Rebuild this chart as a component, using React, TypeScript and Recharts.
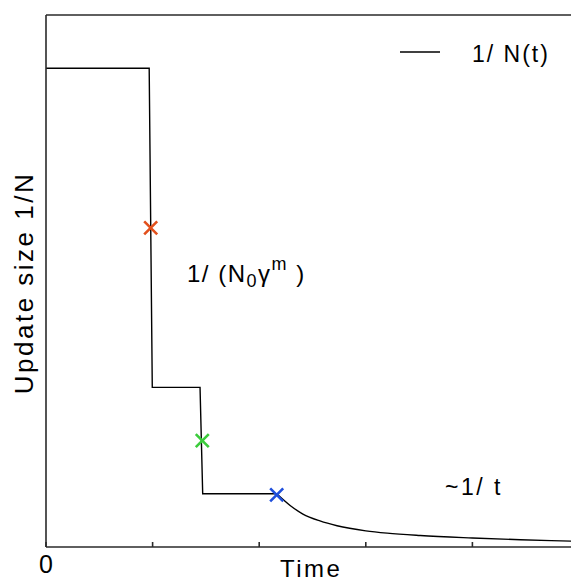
import React from 'react';
import { ComposedChart, Line, Scatter, XAxis, YAxis } from 'recharts';

// step part of 1/N(t): time, value
const stepTimes = [0, 0.968, 0.997, 1.445, 1.47, 2.164];
const stepValues = [4.5, 4.5, 1.5, 1.5, 0.5, 0.5];

// ~1/t tail
const tailTimes = [2.164, 2.29, 2.41, 2.57, 2.73, 3.0, 3.2, 3.51, 4.0, 4.45, 4.93, 5.0];
const tailValues = [0.5, 0.39, 0.31, 0.245, 0.2, 0.152, 0.13, 0.108, 0.085, 0.068, 0.055, 0.053];

// marker crosses
const markerTimes = [0.982, 1.466, 2.164];
const markerValues = [3.0, 1.0, 0.49];
const markerColors = ['#e2501c', '#3ccc3c', '#1f4fdc'];

const axisTicks = [0, 1, 2, 3, 4, 5];

const stepData = stepTimes.map((t, i) => ({ t, v: stepValues[i] }));
const tailData = tailTimes.map((t, i) => ({ t, v: tailValues[i] }));

const FONT = '"Liberation Sans", Arial, sans-serif';

const Cross = (props: any) => {
  const { cx, cy, fill } = props;
  const s = 6.5;
  return <path d={`M${cx - s},${cy - s}L${cx + s},${cy + s}M${cx - s},${cy + s}L${cx + s},${cy - s}`} stroke={fill} strokeWidth={2.6} fill="none" />;
};

const ZeroTick = (props: any) => {
  const { x, payload } = props;
  if (payload.value !== 0) return <g />;
  return <text x={x} y={573} textAnchor="middle" fontSize={25} fontFamily={FONT} fill="#000">0</text>;
};

const App = () => {
  const axisStyle = { stroke: '#2a2a2a', strokeWidth: 1.6 };
  return <div style={{ position: 'absolute', left: 0, top: 0, width: 571, height: 581, overflow: 'hidden', background: '#fff' }}>
      <ComposedChart width={600} height={581} margin={{ top: 14, right: 20, bottom: 4, left: 45 }}>
        <XAxis xAxisId="b" type="number" dataKey="t" domain={[0, 5]} ticks={axisTicks} height={30} axisLine={axisStyle} tickLine={axisStyle} tickSize={-5} tick={<ZeroTick />} />
        <XAxis xAxisId="top" orientation="top" type="number" dataKey="t" domain={[0, 5]} ticks={axisTicks} height={1} axisLine={axisStyle} tickLine={axisStyle} tickSize={-5} tick={false} />
        <YAxis yAxisId="l" type="number" domain={[0, 5]} ticks={axisTicks} width={1} axisLine={axisStyle} tickLine={axisStyle} tickSize={-5} tick={false} />
        <YAxis yAxisId="r" orientation="right" type="number" domain={[0, 5]} ticks={axisTicks} width={1} axisLine={axisStyle} tickLine={axisStyle} tickSize={-5} tick={false} />
        <Line xAxisId="b" yAxisId="l" data={stepData} dataKey="v" type="linear" stroke="#000" strokeWidth={1.4} dot={false} isAnimationActive={false} />
        <Line xAxisId="b" yAxisId="l" data={tailData} dataKey="v" type="monotone" stroke="#000" strokeWidth={1.4} dot={false} isAnimationActive={false} />
        {markerTimes.map((t, i) => <Scatter key={i} xAxisId="b" yAxisId="l" data={[{ t, v: markerValues[i] }]} dataKey="v" fill={markerColors[i]} shape={<Cross />} isAnimationActive={false} />)}
      </ComposedChart>
      <svg width={571} height={581} style={{ position: 'absolute', left: 0, top: 0, pointerEvents: 'none' }}>
        <line x1={400} y1={52} x2={440} y2={52} stroke="#000" strokeWidth={1.3} />
        <text x={472} y={62} fontSize={23} fontFamily={FONT} letterSpacing={2} fill="#000">1/ N(t)</text>
        <text transform="translate(33,283) rotate(-90)" textAnchor="middle" fontSize={26} letterSpacing={2.5} fontFamily={FONT} fill="#000">Update size 1/N</text>
        <text x={280} y={577} fontSize={24} letterSpacing={2.5} fontFamily={FONT} fill="#000">Time</text>
        <text x={187} y={282} fontSize={24} letterSpacing={1.5} fontFamily={FONT} fill="#000">
          1/ (N<tspan fontSize={18} dy={5}>0</tspan><tspan dy={-5}>γ</tspan><tspan fontSize={18} dy={-12}>m</tspan><tspan dy={12}> )</tspan>
        </text>
        <text x={445} y={495} fontSize={23} letterSpacing={2.5} fontFamily={FONT} fill="#000">~1/ t</text>
      </svg>
    </div>;
};

export default App;
